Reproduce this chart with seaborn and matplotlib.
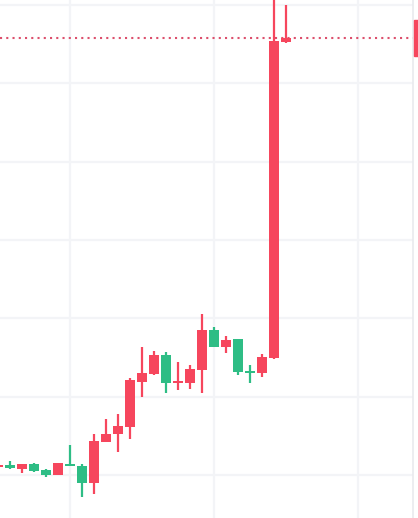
import numpy as np
import pandas as pd
import matplotlib
matplotlib.use("Agg")
import matplotlib.pyplot as plt
import matplotlib.transforms as mtransforms
from matplotlib.patches import Rectangle
import seaborn as sns

# ---- data ----
opens  = [0.410, 0.413, 0.408, 0.414, 0.406, 0.400, 0.414, 0.4115, 0.390, 0.442, 0.452, 0.461,
          0.519, 0.529, 0.553, 0.517, 0.517, 0.534, 0.585, 0.563, 0.5736, 0.5328, 0.530, 0.5494, 0.9528]
highs  = [0.413, 0.418, 0.414, 0.415, 0.408, 0.415, 0.438, 0.414, 0.452, 0.471, 0.478, 0.524,
          0.563, 0.558, 0.557, 0.544, 0.540, 0.6055, 0.589, 0.5775, 0.5736, 0.540, 0.5545, 1.030, 1.000]
lows   = [0.410, 0.408, 0.403, 0.404, 0.397, 0.400, 0.411, 0.372, 0.376, 0.442, 0.429, 0.446,
          0.500, 0.528, 0.505, 0.5085, 0.510, 0.5047, 0.563, 0.5557, 0.5277, 0.5175, 0.525, 0.548, 0.9515]
closes = [0.413, 0.409, 0.414, 0.405, 0.400, 0.415, 0.4115, 0.390, 0.443, 0.452, 0.4626, 0.521,
          0.530, 0.553, 0.517, 0.520, 0.535, 0.585, 0.563, 0.572, 0.5315, 0.530, 0.5506, 0.954, 0.9579]

UP = "#F6465D"     # red = rising
DOWN = "#2EBD85"   # green = falling
GRID = "#F3F4F7"
PRICE_LINE = "#DC4F6C"

df = pd.DataFrame({"open": opens, "high": highs, "low": lows, "close": closes})
df["i"] = np.arange(len(df))
df["up"] = df["close"] >= df["open"]

sns.set_theme(style="white")
fig = plt.figure(figsize=(4.18, 5.18), dpi=100)
ax = fig.add_axes([0, 0, 413 / 418, 1])

# grid
for gx in [-6, 6, 18, 30]:
    ax.axvline(gx, color=GRID, lw=1.6, zorder=0)
for gy in np.arange(0.3, 1.05, 0.1):
    ax.axhline(gy, color=GRID, lw=1.6, zorder=0)

colors = np.where(df["up"], UP, DOWN)
body_lo = np.minimum(df["open"], df["close"])
body_h = np.maximum(np.abs(df["close"] - df["open"]), 0.0022)

ax.vlines(df["i"], df["low"], df["high"], colors=colors, lw=1.6, zorder=2)
ax.bar(df["i"], body_h, bottom=body_lo, width=0.78, color=colors, edgecolor=colors, lw=0, zorder=3)

# last price line
last = closes[-1]
last_col = UP if closes[-1] >= opens[-1] else DOWN
ax.axhline(last, color=PRICE_LINE, lw=1.5, linestyle=(0, (1, 2)), zorder=1)

# clipped price label on the right scale
trans = mtransforms.blended_transform_factory(ax.transAxes, ax.transData)
ax.add_patch(Rectangle((1.003, last - 0.0225), 0.05, 0.045, transform=trans,
                       color=last_col, clip_on=False, zorder=5))

ax.set_xlim(2 / 12, (413 + 2) / 12)
ax.set_ylim(0.4 - 43 / 783.3, 0.4 + 475 / 783.3)
ax.set_xticks([])
ax.set_yticks([])
for s in ["top", "left", "bottom"]:
    ax.spines[s].set_visible(False)
ax.spines["right"].set_color("#E9EAEE")
ax.spines["right"].set_linewidth(1.2)
ax.set_facecolor("white")
fig.patch.set_facecolor("white")

fig.savefig("out.png", dpi=100)
